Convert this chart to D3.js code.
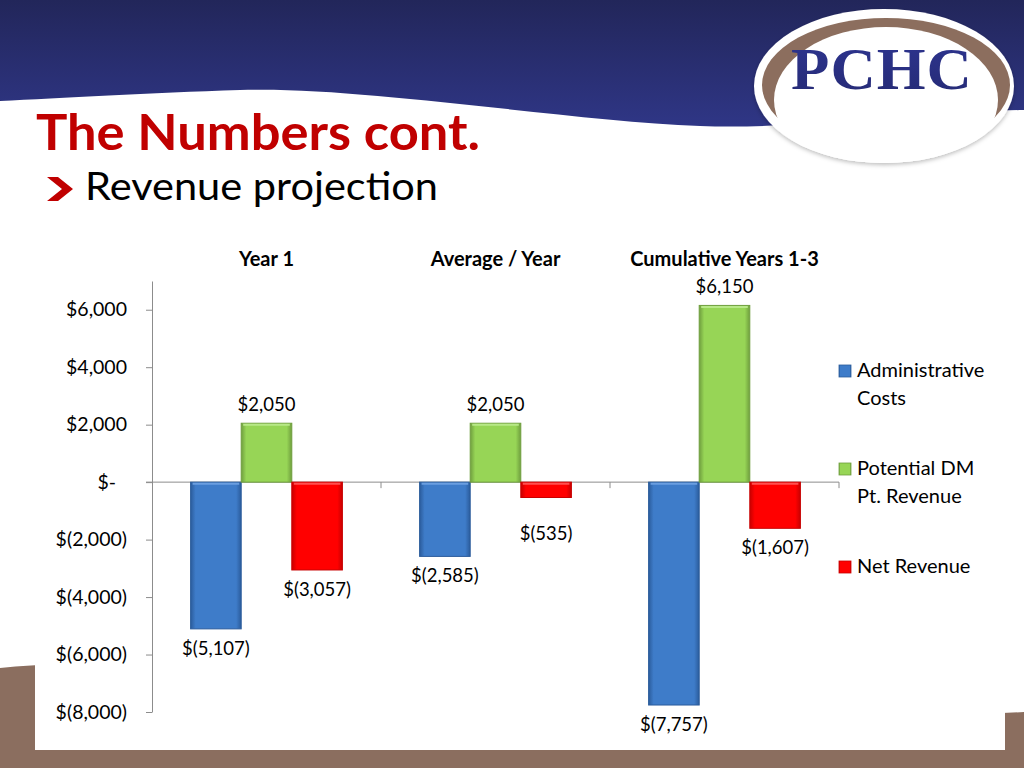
<!DOCTYPE html>
<html>
<head>
<meta charset="utf-8">
<script src="https://cdn.jsdelivr.net/npm/d3@7"></script>
<style>
  html, body { margin: 0; padding: 0; background: #fff; }
  svg { display: block; }
</style>
</head>
<body>
<svg id="chart" width="1024" height="768"></svg>
<script>
// ---- data ----
const categories = ["Year 1", "Average / Year", "Cumulative Years 1-3"];
const seriesNames = ["Administrative Costs", "Potential DM Pt. Revenue", "Net Revenue"];
const adminCosts = [-5107, -2585, -7757];
const dmRevenue = [2050, 2050, 6150];
const netRevenue = [-3057, -535, -1607];
const yTicks = [-8000, -6000, -4000, -2000, 0, 2000, 4000, 6000];
const legendLines = [["Administrative", "Costs"], ["Potential DM", "Pt. Revenue"], ["Net Revenue"]];
const titleText = "The Numbers cont.";
const subtitleText = "Revenue projection";
const logoText = "PCHC";

const seriesValues = [adminCosts, dmRevenue, netRevenue];
const seriesColors = [
  { main: "#3E7CC9", edge: "#2B5C9C", light: "#6A9EE0" },
  { main: "#97D556", edge: "#6F9E3E", light: "#B8E888" },
  { main: "#FF0000", edge: "#C80000", light: "#FF5050" }
];

const svg = d3.select("#chart");
const defs = svg.append("defs");

// ---- background ----
const hdr = defs.append("linearGradient").attr("id", "hdr").attr("x1", 0).attr("y1", 0).attr("x2", 0).attr("y2", 1);
hdr.append("stop").attr("offset", "0%").attr("stop-color", "#22265A");
hdr.append("stop").attr("offset", "100%").attr("stop-color", "#2F3686");

svg.append("path")
  .attr("d", "M0,0 H1024 V110 C 900,112 800,130 700,126 C 560,120 360,86 240,90 C 150,93 60,98 0,101 Z")
  .attr("fill", "url(#hdr)");

// bottom brown
svg.append("path")
  .attr("d", "M0,668 C 300,640 700,730 1024,712 L1024,768 L0,768 Z")
  .attr("fill", "#8B6E5F");
svg.append("rect").attr("x", 35).attr("y", 215).attr("width", 970).attr("height", 535).attr("fill", "#fff");

// logo
const logoShadow = defs.append("filter").attr("id", "lsh").attr("x", "-10%").attr("y", "-10%").attr("width", "120%").attr("height", "130%");
logoShadow.append("feDropShadow").attr("dx", 0).attr("dy", 2).attr("stdDeviation", 2).attr("flood-color", "#000").attr("flood-opacity", 0.25);
defs.append("clipPath").attr("id", "logoClip").append("ellipse")
  .attr("cx", 884).attr("cy", 86).attr("rx", 130).attr("ry", 77);
svg.append("ellipse").attr("cx", 884).attr("cy", 86).attr("rx", 130).attr("ry", 77)
  .attr("fill", "#fff").attr("filter", "url(#lsh)");
const logoG = svg.append("g").attr("clip-path", "url(#logoClip)");
logoG.append("ellipse").attr("cx", 886).attr("cy", 85).attr("rx", 124).attr("ry", 67).attr("fill", "#8C6E5E");
logoG.append("ellipse").attr("cx", 886).attr("cy", 100).attr("rx", 112).attr("ry", 73).attr("fill", "#fff");
const lg = defs.append("linearGradient").attr("id", "logoTxt").attr("x1", 0).attr("y1", 0).attr("x2", 0).attr("y2", 1);
lg.append("stop").attr("offset", "0%").attr("stop-color", "#2E3590");
lg.append("stop").attr("offset", "100%").attr("stop-color", "#252A74");
svg.append("text").attr("x", 882).attr("y", 89).attr("text-anchor", "middle")
  .attr("font-family", "'Liberation Serif', serif").attr("font-weight", "bold")
  .attr("font-size", 60).attr("letter-spacing", 1).attr("fill", "url(#logoTxt)")
  .attr("textLength", 182).attr("lengthAdjust", "spacingAndGlyphs")
  .text(logoText);

// title
svg.append("text").attr("x", 36).attr("y", 150)
  .attr("font-family", "Lato, sans-serif").attr("font-weight", "bold").attr("font-size", 50)
  .attr("fill", "#C00000").attr("textLength", 444).attr("lengthAdjust", "spacingAndGlyphs")
  .text(titleText);
svg.append("path").attr("d", "M47,177 L58,177 L73,189 L58,201 L47,201 L62,189 Z").attr("fill", "#C00000");
svg.append("text").attr("x", 85).attr("y", 200)
  .attr("font-family", "Lato, sans-serif").attr("font-size", 39)
  .attr("fill", "#000").attr("textLength", 353).attr("lengthAdjust", "spacingAndGlyphs")
  .text(subtitleText);

// ---- chart ----
const plotLeft = 152, plotRight = 839;
const x0 = d3.scaleBand().domain(categories).range([plotLeft, plotRight]).padding(0);
const x1 = d3.scaleBand().domain(d3.range(seriesNames.length)).range([0, x0.bandwidth()])
  .paddingInner(0).paddingOuter(0.763);
const y = d3.scaleLinear().domain([-8000, 7000]).range([712, 281]);

const fmt = d3.format(",");
const money = v => v === 0 ? "$-" : (v < 0 ? "$(" + fmt(-v) + ")" : "$" + fmt(v));

// gradients for bars
seriesColors.forEach((c, i) => {
  const g = defs.append("linearGradient").attr("id", "bar" + i).attr("x1", 0).attr("y1", 0).attr("x2", 1).attr("y2", 0);
  g.append("stop").attr("offset", "0%").attr("stop-color", c.edge);
  g.append("stop").attr("offset", "10%").attr("stop-color", c.main);
  g.append("stop").attr("offset", "90%").attr("stop-color", c.main);
  g.append("stop").attr("offset", "100%").attr("stop-color", c.edge);
});

// y axis
const yAxis = d3.axisLeft(y).tickValues(yTicks).tickSize(6).tickSizeOuter(0).tickPadding(19).tickFormat(money);
const yg = svg.append("g").attr("transform", `translate(${plotLeft},0)`).call(yAxis);
yg.select(".domain").attr("stroke", "#8C8C8C");
yg.selectAll(".tick line").attr("stroke", "#8C8C8C");
yg.selectAll(".tick text").attr("font-family", "Lato, sans-serif").attr("font-size", 19.5).attr("fill", "#000")
  .attr("dx", d => d === 0 ? -11 : 0);

// category axis at zero
const zeroY = y(0);
svg.append("line").attr("x1", plotLeft - 6).attr("x2", plotRight).attr("y1", zeroY).attr("y2", zeroY)
  .attr("stroke", "#8C8C8C");
const boundaries = categories.map(c => x0(c)).concat([x0.range()[1]]).slice(1);
svg.selectAll(".ctick").data(boundaries).enter().append("line")
  .attr("x1", d => d).attr("x2", d => d).attr("y1", zeroY).attr("y2", zeroY + 6)
  .attr("stroke", "#8C8C8C");

// category headers
svg.selectAll(".cat").data(categories).enter().append("text")
  .attr("x", d => x0(d) + x0.bandwidth() / 2).attr("y", 266)
  .attr("text-anchor", "middle").attr("font-family", "Lato, sans-serif").attr("font-weight", "bold")
  .attr("font-size", 20).attr("fill", "#000").text(d => d);

// bars
const barData = [];
categories.forEach((c, ci) => {
  seriesValues.forEach((vals, si) => barData.push({ c, si, v: vals[ci] }));
});
const bars = svg.append("g");
bars.selectAll("rect").data(barData).enter().append("rect")
  .attr("x", d => x0(d.c) + x1(d.si))
  .attr("width", x1.bandwidth())
  .attr("y", d => y(Math.max(0, d.v)))
  .attr("height", d => Math.abs(y(d.v) - y(0)))
  .attr("fill", d => `url(#bar${d.si})`)
  .attr("stroke", d => seriesColors[d.si].edge).attr("stroke-width", 1);
// light top bevel
bars.selectAll("line.bev").data(barData).enter().append("line")
  .attr("x1", d => x0(d.c) + x1(d.si) + 2).attr("x2", d => x0(d.c) + x1(d.si) + x1.bandwidth() - 2)
  .attr("y1", d => y(Math.max(0, d.v)) + 1.5).attr("y2", d => y(Math.max(0, d.v)) + 1.5)
  .attr("stroke", d => seriesColors[d.si].light).attr("stroke-width", 2);

// data labels
svg.append("g").selectAll("text").data(barData).enter().append("text")
  .attr("x", d => x0(d.c) + x1(d.si) + x1.bandwidth() / 2)
  .attr("y", d => d.v >= 0 ? y(d.v) - 12 : Math.max(y(d.v) + 26, zeroY + 58))
  .attr("text-anchor", "middle").attr("font-family", "Lato, sans-serif").attr("font-size", 18.5)
  .attr("fill", "#000").text(d => money(d.v));

// legend
const legendTop = [377, 475, 573];
const leg = svg.append("g");
seriesNames.forEach((s, i) => {
  const c = seriesColors[i];
  leg.append("rect").attr("x", 839).attr("y", legendTop[i] - 12).attr("width", 12).attr("height", 12)
    .attr("fill", `url(#bar${i})`).attr("stroke", c.edge).attr("stroke-width", 0.8);
  const t = leg.append("text").attr("font-family", "Lato, sans-serif").attr("font-size", 20).attr("fill", "#000");
  legendLines[i].forEach((ln, j) => {
    t.append("tspan").attr("x", 857).attr("y", legendTop[i] + j * 28).text(ln);
  });
});
</script>
</body>
</html>
